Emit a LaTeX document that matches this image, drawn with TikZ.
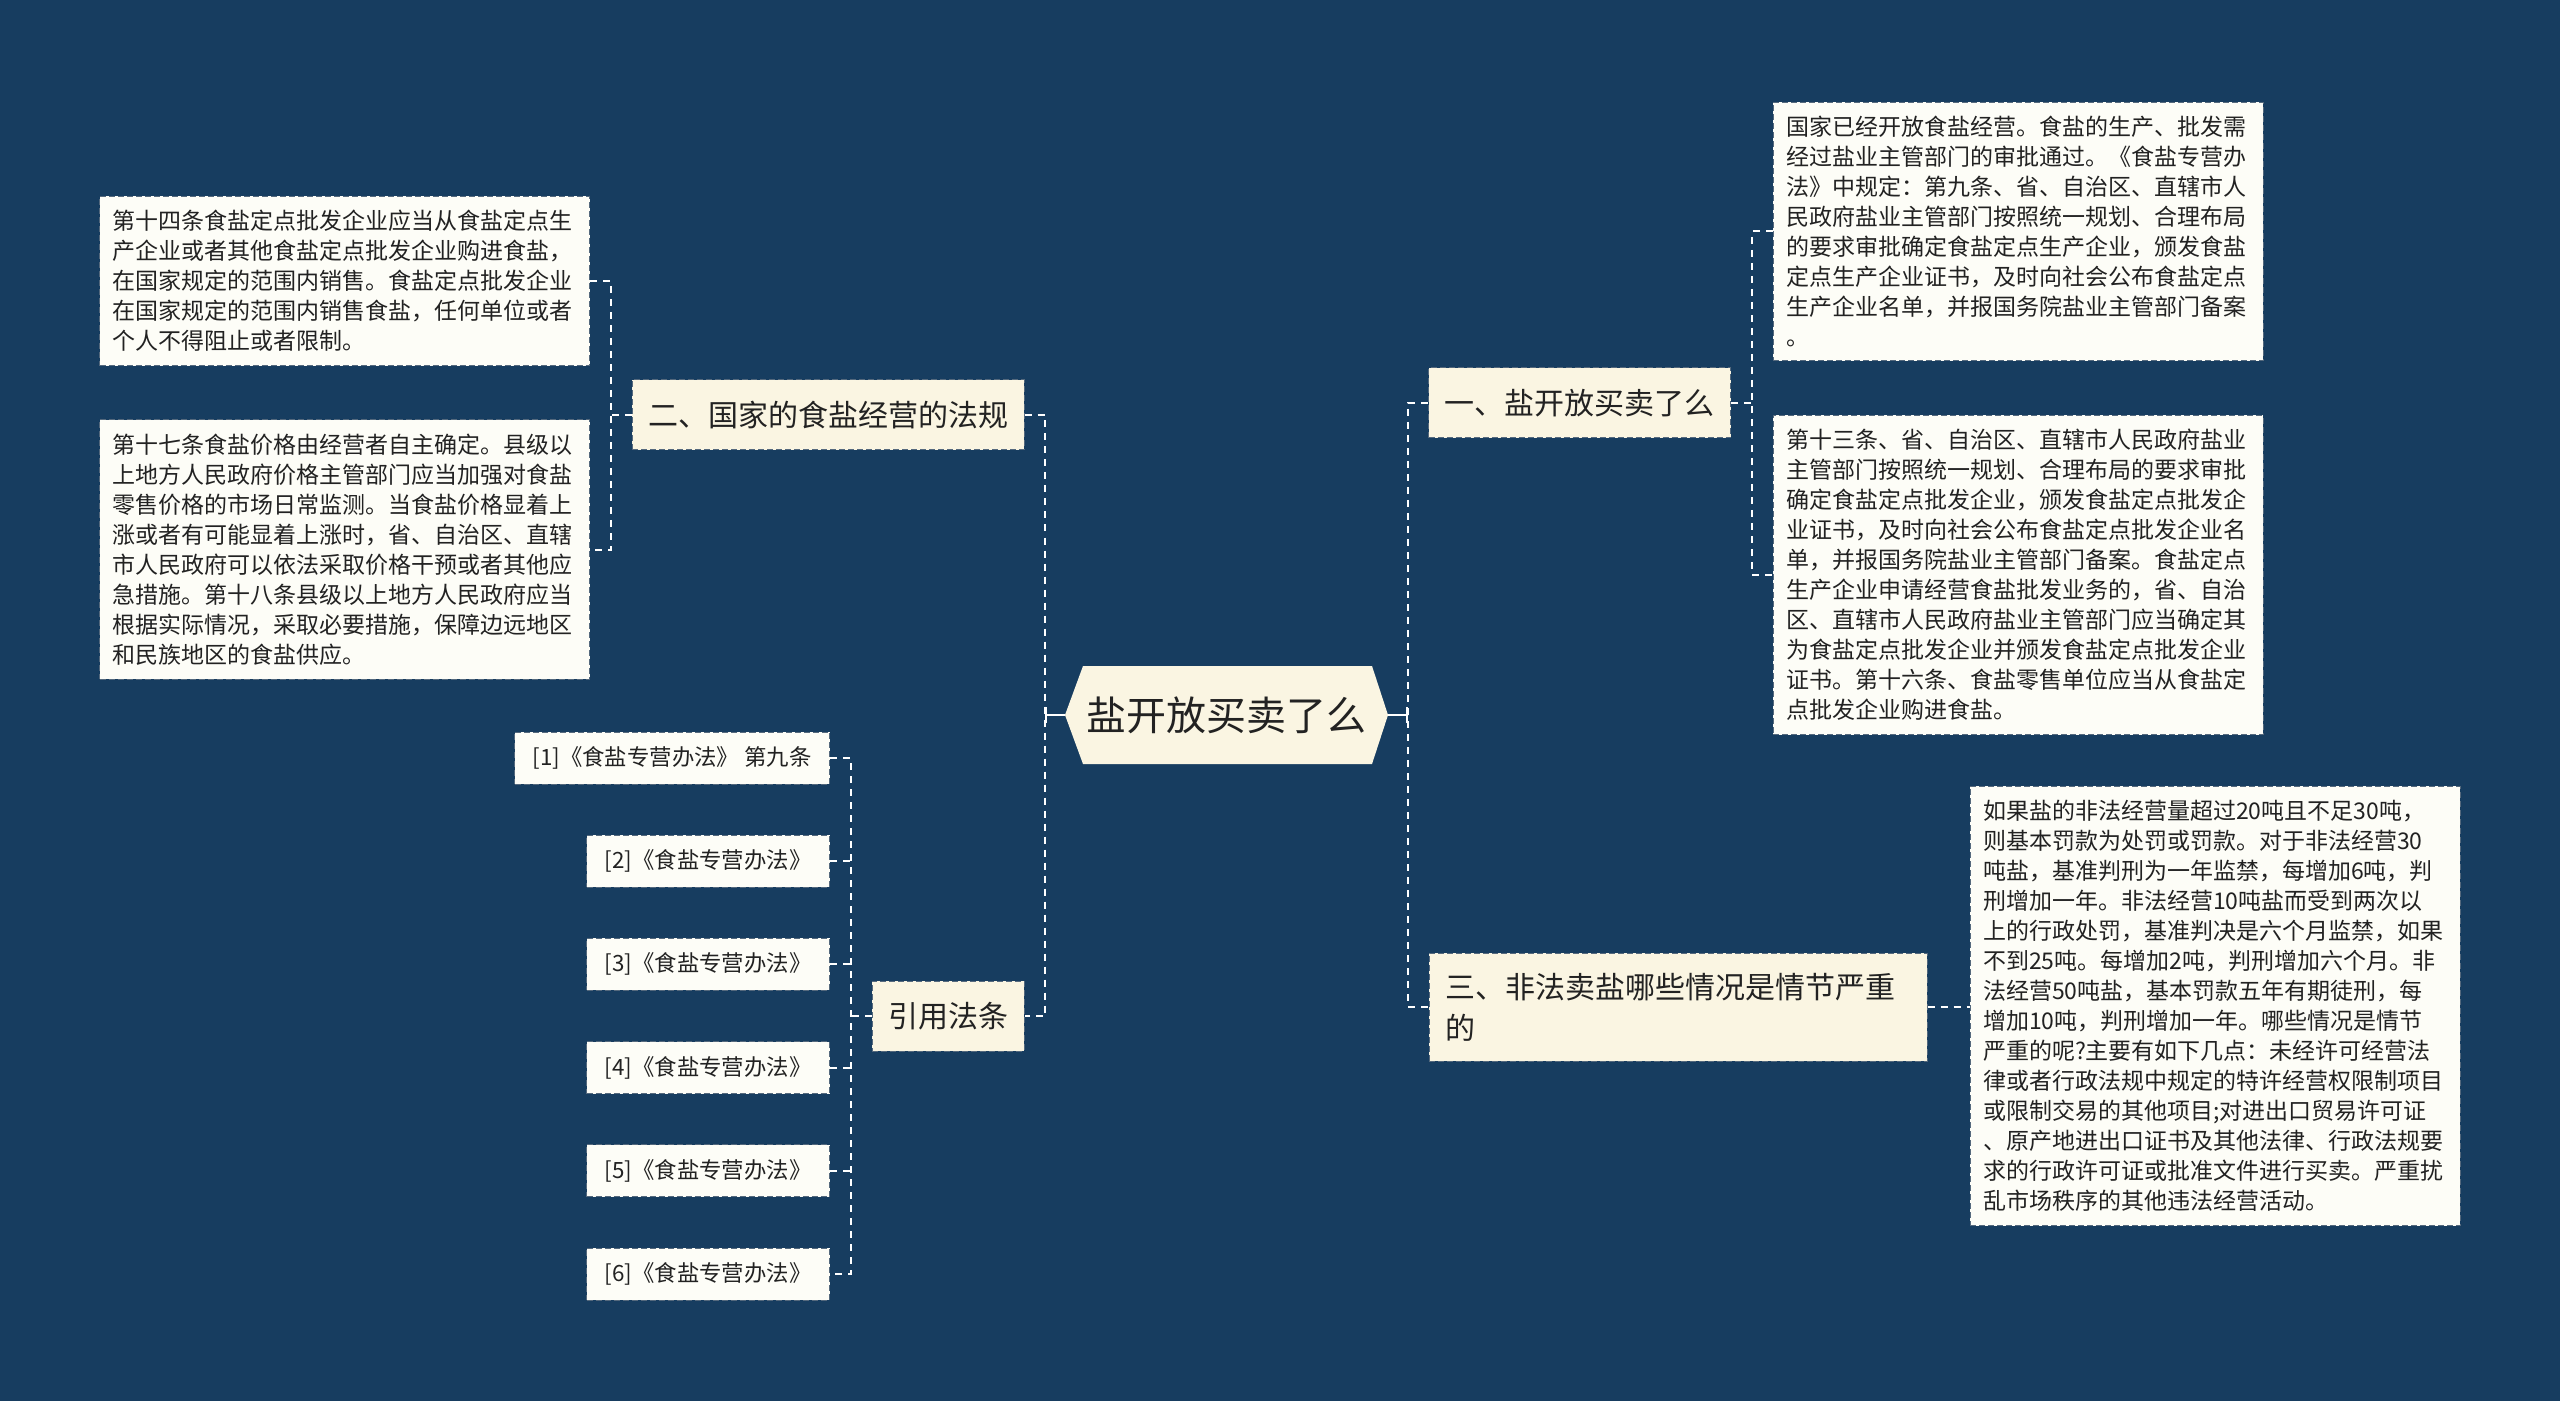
\documentclass[tikz,border=0pt]{standalone}
\usepackage{fontspec}
\setmainfont{Noto Sans CJK SC}
\usepackage{tikz}
\usetikzlibrary{arrows.meta, positioning}
\definecolor{bgnavy}{HTML}{173D60}
\definecolor{creamfill}{HTML}{FAF5E2}
\definecolor{leaffill}{HTML}{FDFDF7}
\definecolor{boxline}{HTML}{55697D}
\definecolor{inktext}{HTML}{222222}

\begin{document}
\begin{tikzpicture}[
        x=0.5pt, y=-0.5pt,
        base/.style    ={draw=boxline, dashed, line width=0.5pt, text=inktext,
                         dash pattern=on 3pt off 1.5pt, inner ysep=0pt},
        branch/.style  ={base, fill=creamfill, font=\fontsize{15pt}{20.5pt}\selectfont,
                         inner xsep=8pt, minimum height=35pt},
        leaf/.style    ={base, fill=leaffill, font=\fontsize{11.5pt}{15pt}\selectfont,
                         text width=232pt, inner xsep=6.5pt, inner ysep=7pt, align=left},
        cite/.style    ={base, fill=leaffill, font=\fontsize{11.2pt}{14pt}\selectfont,
                         inner xsep=9pt, minimum height=26pt, anchor=east},
        link/.style    ={white, line width=1pt, dash pattern=on 3.5pt off 3pt},
        stem/.style    ={white, line width=1pt, -{Bar[width=8pt, line width=1pt]}}
    ]

    % --- fundo ---
    \fill[bgnavy] (0,0) rectangle (2560,1401);

    % --- nó central ---
    \fill[creamfill] (1065,715) -- (1083,666) -- (1372,666) -- (1388,715)
                     -- (1372,764) -- (1083,764) -- cycle;
    \node[text=inktext, font=\fontsize{20pt}{24pt}\selectfont,
          minimum width=161.5pt, minimum height=48.5pt, inner sep=0pt]
          (root) at (1226.5,715) {盐开放买卖了么};

    % --- ramos ---
    \node[branch] (open)  at (1579.5,403) {一、盐开放买卖了么};
    \node[branch] (rules) at (828,415)    {二、国家的食盐经营的法规};
    \node[branch, text width=233pt, align=left, minimum height=54pt]
          (crime) at (1678,1007) {三、非法卖盐哪些情况是情节严重\\的};
    \node[branch] (refs)  at (948,1016)   {引用法条};

    % --- folhas ---
    \node[leaf] (openA) at (2018,231.5) {国家已经开放食盐经营。食盐的生产、批发需\\
        经过盐业主管部门的审批通过。《食盐专营办\\
        法》中规定：第九条、省、自治区、直辖市人\\
        民政府盐业主管部门按照统一规划、合理布局\\
        的要求审批确定食盐定点生产企业，颁发食盐\\
        定点生产企业证书，及时向社会公布食盐定点\\
        生产企业名单，并报国务院盐业主管部门备案\\
        。};

    \node[leaf] (openB) at (2018,575) {第十三条、省、自治区、直辖市人民政府盐业\\
        主管部门按照统一规划、合理布局的要求审批\\
        确定食盐定点批发企业，颁发食盐定点批发企\\
        业证书，及时向社会公布食盐定点批发企业名\\
        单，并报国务院盐业主管部门备案。食盐定点\\
        生产企业申请经营食盐批发业务的，省、自治\\
        区、直辖市人民政府盐业主管部门应当确定其\\
        为食盐定点批发企业并颁发食盐定点批发企业\\
        证书。第十六条、食盐零售单位应当从食盐定\\
        点批发企业购进食盐。};

    \node[leaf] (crimeA) at (2215,1006) {如果盐的非法经营量超过20吨且不足30吨，\\
        则基本罚款为处罚或罚款。对于非法经营30\\
        吨盐，基准判刑为一年监禁，每增加6吨，判\\
        刑增加一年。非法经营10吨盐而受到两次以\\
        上的行政处罚，基准判决是六个月监禁，如果\\
        不到25吨。每增加2吨，判刑增加六个月。非\\
        法经营50吨盐，基本罚款五年有期徒刑，每\\
        增加10吨，判刑增加一年。哪些情况是情节\\
        严重的呢?主要有如下几点：未经许可经营法\\
        律或者行政法规中规定的特许经营权限制项目\\
        或限制交易的其他项目;对进出口贸易许可证\\
        、原产地进出口证书及其他法律、行政法规要\\
        求的行政许可证或批准文件进行买卖。严重扰\\
        乱市场秩序的其他违法经营活动。};

    \node[leaf] (rulesA) at (344.5,281) {第十四条食盐定点批发企业应当从食盐定点生\\
        产企业或者其他食盐定点批发企业购进食盐，\\
        在国家规定的范围内销售。食盐定点批发企业\\
        在国家规定的范围内销售食盐，任何单位或者\\
        个人不得阻止或者限制。};

    \node[leaf] (rulesB) at (344.5,549.5) {第十七条食盐价格由经营者自主确定。县级以\\
        上地方人民政府价格主管部门应当加强对食盐\\
        零售价格的市场日常监测。当食盐价格显着上\\
        涨或者有可能显着上涨时，省、自治区、直辖\\
        市人民政府可以依法采取价格干预或者其他应\\
        急措施。第十八条县级以上地方人民政府应当\\
        根据实际情况，采取必要措施，保障边远地区\\
        和民族地区的食盐供应。};

    % --- referências ---
    \node[cite] (ref1) at (830,758) {[1]《食盐专营办法》 第九条};
    \foreach \i in {2,...,6}
        \node[cite] (ref\i) at (830,{758+(\i-1)*103.2}) {[\i]《食盐专营办法》};

    % --- pontos de junção ---
    \coordinate (lspine) at (1045,715);
    \coordinate (rspine) at (1408,715);
    \coordinate (openJ)  at (1752,403);
    \coordinate (rulesJ) at (611,415);
    \coordinate (refsJ)  at (851,1016);

    % --- ligações ---
    \draw[stem] (root.west) -- (lspine);
    \draw[stem] (root.east) -- (rspine);
    \draw[link] (rules.east) -| (lspine) |- (refs.east);
    \draw[link] (open.west) -| (rspine) |- (crime.west);

    \draw[link] (open.east) -- (openJ);
    \draw[link] (openA.west) -| (openJ) |- (openB.west);
    \draw[link] (crime.east) -- (crime.east -| crimeA.west);

    \draw[link] (rules.west) -- (rulesJ);
    \draw[link] (rulesA.east) -| (rulesJ) |- (rulesB.east);

    \draw[link] (refs.west) -- (refsJ);
    \draw[link] (ref1.east) -| (refsJ) |- (ref6.east);
    \foreach \i in {2,...,5}
        \draw[link] (ref\i.east) -- (ref\i.east -| refsJ);

\end{tikzpicture}
\end{document}
